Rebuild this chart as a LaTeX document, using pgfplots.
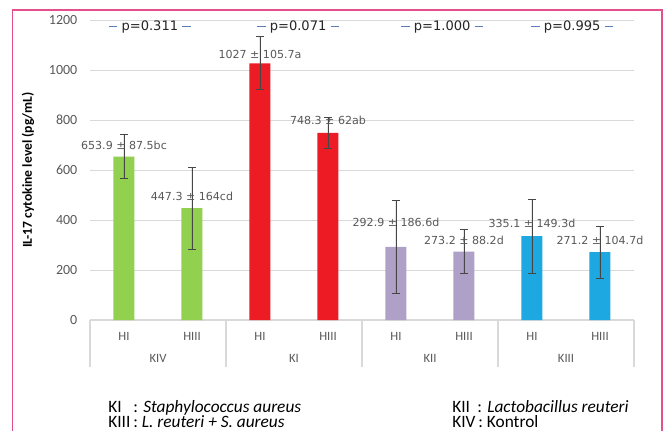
\documentclass[border=0pt]{standalone}
\usepackage{pgfplots}
\pgfplotsset{compat=1.18}
\usepackage{fontspec}
\setmainfont{Carlito}
\newfontfamily\dvs{DejaVu Sans}
\definecolor{cgreen}{RGB}{146,208,80}
\definecolor{cred}{RGB}{237,28,36}
\definecolor{cpurple}{RGB}{175,160,200}
\definecolor{cblue}{RGB}{30,168,226}
\definecolor{tgray}{RGB}{89,89,89}
\definecolor{lgray}{RGB}{217,217,217}
\definecolor{egray}{RGB}{70,70,70}
\definecolor{pblue}{RGB}{91,125,184}
\definecolor{pinkb}{RGB}{228,80,140}
\newcommand{\pd}{\textcolor{pblue}{\rule[0.3em]{6.5pt}{0.8pt}}}
\begin{document}
\begin{tikzpicture}[x=0.75pt,y=0.75pt]
\useasboundingbox (0,0) rectangle (665,430);
\fill[white] (0,0) rectangle (665,430);
\draw[pinkb,line width=1.2pt] (12.5,-2) -- (12.5,420) -- (662,420) -- (662,-2);
\begin{axis}[
  at={(67.5pt,82.5pt)}, anchor=south west,
  scale only axis, width=408pt, height=225pt,
  xmin=0, xmax=8, ymin=0, ymax=1200,
  clip=false,
  axis x line=bottom, axis y line=left,
  x axis line style={draw=lgray, line width=0.8pt, -},
  y axis line style={draw=none},
  xtick=\empty,
  ytick={0,200,...,1200},
  major tick length=0pt,
  ymajorgrids, grid style={lgray, line width=0.6pt},
  yticklabel style={font=\fontsize{10.5}{12}\selectfont, text=tgray, xshift=-6pt},
  /pgf/number format/assume math mode=true,
  /pgf/number format/1000 sep={},
  error bars/y dir=both, error bars/y explicit,
  error bars/error mark options={rotate=90, mark size=3pt, egray, line width=0.6pt},
  error bars/error bar style={egray, line width=0.6pt},
]
\addplot[ybar, bar shift=0pt, bar width=15.75pt, fill=cgreen, draw=none] coordinates {(0.5,653.9) +- (0,87.5) (1.5,447.3) +- (0,164)};
\addplot[ybar, bar shift=0pt, bar width=15.75pt, fill=cred, draw=none] coordinates {(2.5,1027) +- (0,105.7) (3.5,748.3) +- (0,62)};
\addplot[ybar, bar shift=0pt, bar width=15.75pt, fill=cpurple, draw=none] coordinates {(4.5,292.9) +- (0,186.6) (5.5,273.2) +- (0,88.2)};
\addplot[ybar, bar shift=0pt, bar width=15.75pt, fill=cblue, draw=none] coordinates {(6.5,335.1) +- (0,149.3) (7.5,271.2) +- (0,104.7)};
% data labels
\begin{scope}[every node/.style={font=\dvs\fontsize{8.3}{10}\selectfont, text=egray!90}]
\node at (axis cs:0.5,700) {653.9 ± 87.5bc};
\node at (axis cs:1.5,496) {447.3 ± 164cd};
\node at (axis cs:2.5,1064) {1027 ± 105.7a};
\node at (axis cs:3.5,800) {748.3 ± 62ab};
\node at (axis cs:4.5,392) {292.9 ± 186.6d};
\node at (axis cs:5.5,320) {273.2 ± 88.2d};
\node at (axis cs:6.5,388) {335.1 ± 149.3d};
\node at (axis cs:7.5,320) {271.2 ± 104.7d};
\end{scope}
% p-values
\begin{scope}[every node/.style={font=\dvs\fontsize{9.8}{11}\selectfont, text=black!85}]
\node at (axis cs:0.88,1172) {\pd\ p=0.311 \pd};
\node at (axis cs:3.06,1172) {\pd\ p=0.071 \pd};
\node at (axis cs:5.18,1172) {\pd\ p=1.000 \pd};
\node at (axis cs:7.09,1172) {\pd\ p=0.995 \pd};
\end{scope}
% category axis
\pgfplotsinvokeforeach{0,2,4,6,8}{\draw[lgray, line width=0.8pt] (axis cs:#1,0) -- (axis cs:#1,-188);}
\pgfplotsinvokeforeach{0.5,2.5,4.5,6.5}{\node[font=\fontsize{9.5}{11}\selectfont, text=tgray] at (axis cs:#1,-64) {HI};}
\pgfplotsinvokeforeach{1.5,3.5,5.5,7.5}{\node[font=\fontsize{9.5}{11}\selectfont, text=tgray] at (axis cs:#1,-64) {HIII};}
\begin{scope}[every node/.style={font=\fontsize{9.5}{11}\selectfont, text=tgray}]
\node at (axis cs:1,-152) {KIV};
\node at (axis cs:3,-152) {KI};
\node at (axis cs:5,-152) {KII};
\node at (axis cs:7,-152) {KIII};
\end{scope}
\end{axis}
\node[rotate=90, font=\bfseries\fontsize{10.2}{12}\selectfont] at (28,260) {IL-17 cytokine level (pg/mL)};
\begin{scope}[every node/.style={anchor=base west, inner sep=0pt, font=\fontsize{13}{15}\selectfont}]
\node at (108,18) {\makebox[1.45em][l]{KI}: \textit{Staphylococcus aureus}};
\node at (108,2.5) {KIII\,: \textit{L. reuteri + S. aureus}};
\node at (452,18) {\makebox[1.45em][l]{KII}: \textit{Lactobacillus reuteri}};
\node at (452,2.5) {KIV\,: Kontrol};
\end{scope}
\end{tikzpicture}
\end{document}
